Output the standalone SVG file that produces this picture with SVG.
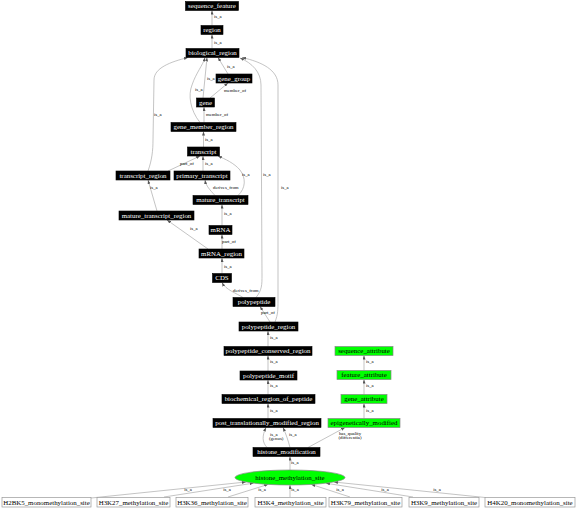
<svg xmlns="http://www.w3.org/2000/svg" width="576" height="509" viewBox="0 0 576 509">
<style>
.n rect{fill:#000;stroke:#000;stroke-width:0.6}
.n text{fill:#fff;font-family:"Liberation Serif",serif;font-size:6.9px;text-anchor:middle}
.g rect,.g ellipse{fill:#00ff00;stroke:#888;stroke-width:0.7}
.g text{fill:#000;font-family:"Liberation Serif",serif;font-size:6.9px;text-anchor:middle}
.w rect{fill:#fff;stroke:#999;stroke-width:0.7}
.w text{fill:#000;font-family:"Liberation Serif",serif;font-size:6.9px;text-anchor:middle}
#edges path{fill:none;stroke:#aaa;stroke-width:0.7;marker-end:url(#ah)}
#edges text{fill:#000;font-family:"Liberation Serif",serif;font-size:4.8px}
#edges text.m{text-anchor:middle}
</style>
<defs>
<marker id="ah" markerUnits="userSpaceOnUse" markerWidth="4" markerHeight="3" refX="4" refY="1.5" orient="auto">
<path d="M0,0 L4,1.5 L0,3 z" fill="#555"/>
</marker>
</defs>
<rect width="576" height="509" fill="#fff"/>
<g id="edges">
<path d="M212,25.5 L212,10.5"/><text x="214" y="18">is_a</text>
<path d="M212,48.5 L212,34.5"/><text x="214" y="44">is_a</text>
<path d="M228,74 L218,57.5"/><text x="227" y="68">is_a</text>
<path d="M203,98 L207,57.5"/><text x="207" y="80">is_a</text>
<path d="M200,122.5 C190,110 188,95 192,85 C196,73 203,65 205,57.5"/><text x="195" y="91">is_a</text>
<path d="M210,98 L228,83"/><text x="224" y="92">member_of</text>
<path d="M204,122.5 L204,107"/><text x="206" y="116">member_of</text>
<path d="M203.5,147 L203.5,131.5"/><text x="205" y="141">is_a</text>
<path d="M168,171 L200,156"/><text x="180" y="165">part_of</text>
<path d="M203,171 L203,156"/><text x="205" y="165">is_a</text>
<path d="M238,195.5 C246,188 246,178 240,170 C234,163 225,159 218,156"/><text x="242" y="176">is_a</text>
<path d="M215,195.5 C210,190 206,186 205,180"/><text x="213" y="189">derives_from</text>
<path d="M148,171 C152,160 153,150 153,140 L154,80 C154,68 170,62 188,57.5"/><text x="154" y="116">is_a</text>
<path d="M157,211 L148,180"/><text x="150" y="189">is_a</text>
<path d="M222,225.5 L222,204.5"/><text x="224" y="215">is_a</text>
<path d="M208,249 L167,220"/><text x="190" y="230">is_a</text>
<path d="M222,249 L222,234.5"/><text x="222" y="243">part_of</text>
<path d="M222,273.5 L222,258"/><text x="224" y="268">is_a</text>
<path d="M243,297.5 C236,293 226,290 222,282.5"/><text x="233" y="292">derives_from</text>
<path d="M256,297.5 C262,290 262,285 262,275 L261,85 C261,72 252,63 240,58"/><text x="263" y="176">is_a</text>
<path d="M270,322 L260,306.5"/><text x="261" y="314">part_of</text>
<path d="M275,322 C278,314 278,310 278,300 L278,85 C278,70 262,62 242,57.5"/><text x="281" y="189">is_a</text>
<path d="M268,346.5 L268,331"/><text x="270" y="339">is_a</text>
<path d="M268,371 L268,355.5"/><text x="270" y="363">is_a</text>
<path d="M268,394.5 L268,380"/><text x="270" y="387">is_a</text>
<path d="M268,418.5 L268,403.5"/><text x="270" y="411.5">is_a</text>
<path d="M364,370.5 L364,355.5"/><text x="366" y="363">is_a</text>
<path d="M364,394.5 L364,379.5"/><text x="366" y="387">is_a</text>
<path d="M364,418.5 L364,403.5"/><text x="366" y="411.5">is_a</text>
<path d="M267,447.5 C262,442 262,436 266,427.5"/><text x="270" y="436">is_a</text><text x="269" y="440">(genus)</text>
<path d="M290,447.5 C288,440 286,434 283,427.5"/><text x="289" y="436">is_a</text>
<path d="M308,447.5 L345,427.5"/><text class="m" x="350" y="435">has_quality</text><text class="m" x="350" y="439">(differentia)</text>
<path d="M290,470 L290,456.5"/><text x="291" y="464">is_a</text>
<path d="M91,498 L246,482"/><text class="m" x="188" y="491">is_a</text>
<path d="M164,497 L253.7,483.1"/><text class="m" x="227" y="491">is_a</text>
<path d="M228,497 L268.1,484.4"/><text class="m" x="262" y="491">is_a</text>
<path d="M290,497 L290,485"/><text class="m" x="295" y="491">is_a</text>
<path d="M350,497 L311.3,484.4"/><text class="m" x="340" y="491">is_a</text>
<path d="M413,497 L325.9,483.2"/><text class="m" x="385" y="491">is_a</text>
<path d="M485,497.5 L333.9,482"/><text class="m" x="437" y="491">is_a</text>
</g>
<g id="sequence_feature" class="n"><rect x="185.5" y="1.5" width="53" height="9"/><text x="212" y="8.4">sequence_feature</text></g>
<g id="region" class="n"><rect x="201" y="25.5" width="22" height="9"/><text x="212" y="32.4">region</text></g>
<g id="biological_region" class="n"><rect x="186" y="48.5" width="53" height="9"/><text x="212.5" y="55.4">biological_region</text></g>
<g id="gene_group" class="n"><rect x="216" y="74" width="36" height="9"/><text x="234" y="80.9">gene_group</text></g>
<g id="gene" class="n"><rect x="196.5" y="98" width="18" height="9"/><text x="205.5" y="104.9">gene</text></g>
<g id="gene_member_region" class="n"><rect x="171" y="122.5" width="65" height="9"/><text x="203.5" y="129.4">gene_member_region</text></g>
<g id="transcript" class="n"><rect x="187.5" y="147" width="32" height="9"/><text x="203.5" y="153.9">transcript</text></g>
<g id="transcript_region" class="n"><rect x="116" y="171" width="54" height="9"/><text x="143" y="177.9">transcript_region</text></g>
<g id="primary_transcript" class="n"><rect x="174" y="171" width="56" height="9"/><text x="202" y="177.9">primary_transcript</text></g>
<g id="mature_transcript" class="n"><rect x="193" y="195.5" width="55" height="9"/><text x="220.5" y="202.4">mature_transcript</text></g>
<g id="mature_transcript_region" class="n"><rect x="119" y="211" width="75" height="9"/><text x="156.5" y="217.9">mature_transcript_region</text></g>
<g id="mRNA" class="n"><rect x="209" y="225.5" width="23" height="9"/><text x="220.5" y="232.4">mRNA</text></g>
<g id="mRNA_region" class="n"><rect x="199" y="249" width="45" height="9"/><text x="221.5" y="255.9">mRNA_region</text></g>
<g id="CDS" class="n"><rect x="212.5" y="273.5" width="19" height="9"/><text x="222" y="280.4">CDS</text></g>
<g id="polypeptide" class="n"><rect x="233" y="297.5" width="42" height="9"/><text x="254" y="304.4">polypeptide</text></g>
<g id="polypeptide_region" class="n"><rect x="239" y="322" width="59" height="9"/><text x="268.5" y="328.9">polypeptide_region</text></g>
<g id="polypeptide_conserved_region" class="n"><rect x="224" y="346.5" width="88" height="9"/><text x="268" y="353.4">polypeptide_conserved_region</text></g>
<g id="polypeptide_motif" class="n"><rect x="240" y="371" width="57" height="9"/><text x="268.5" y="377.9">polypeptide_motif</text></g>
<g id="biochemical_region_of_peptide" class="n"><rect x="222" y="394.5" width="93" height="9"/><text x="268.5" y="401.4">biochemical_region_of_peptide</text></g>
<g id="post_translationally_modified_region" class="n"><rect x="213" y="418.5" width="108" height="9"/><text x="267" y="425.4">post_translationally_modified_region</text></g>
<g id="sequence_attribute" class="g"><rect x="335" y="346.5" width="58" height="9"/><text x="364" y="353.4">sequence_attribute</text></g>
<g id="feature_attribute" class="g"><rect x="337" y="370.5" width="54" height="9"/><text x="364" y="377.4">feature_attribute</text></g>
<g id="gene_attribute" class="g"><rect x="341" y="394.5" width="46" height="9"/><text x="364" y="401.4">gene_attribute</text></g>
<g id="epigenetically_modified" class="g"><rect x="328" y="418.5" width="72" height="9"/><text x="364" y="425.4">epigenetically_modified</text></g>
<g id="histone_modification" class="n"><rect x="253" y="447.5" width="67" height="9"/><text x="286.5" y="454.4">histone_modification</text></g>
<g id="histone_methylation_site" class="g"><ellipse cx="290" cy="477.5" rx="55" ry="7.5"/><text x="290" y="479.9">histone_methylation_site</text></g>
<g id="H2BK5_monomethylation_site" class="w"><rect x="2" y="497.5" width="89" height="9.5"/><text x="46.5" y="504.6">H2BK5_monomethylation_site</text></g>
<g id="H3K27_methylation_site" class="w"><rect x="97" y="497.5" width="73" height="9.5"/><text x="133.5" y="504.6">H3K27_methylation_site</text></g>
<g id="H3K36_methylation_site" class="w"><rect x="176" y="497.5" width="72" height="9.5"/><text x="212" y="504.6">H3K36_methylation_site</text></g>
<g id="H3K4_methylation_site" class="w"><rect x="255" y="497.5" width="71" height="9.5"/><text x="290.5" y="504.6">H3K4_methylation_site</text></g>
<g id="H3K79_methylation_site" class="w"><rect x="329" y="497.5" width="73" height="9.5"/><text x="365.5" y="504.6">H3K79_methylation_site</text></g>
<g id="H3K9_methylation_site" class="w"><rect x="409" y="497.5" width="70" height="9.5"/><text x="444" y="504.6">H3K9_methylation_site</text></g>
<g id="H4K20_monomethylation_site" class="w"><rect x="485" y="497.5" width="90" height="9.5"/><text x="530" y="504.6">H4K20_monomethylation_site</text></g>
</svg>
